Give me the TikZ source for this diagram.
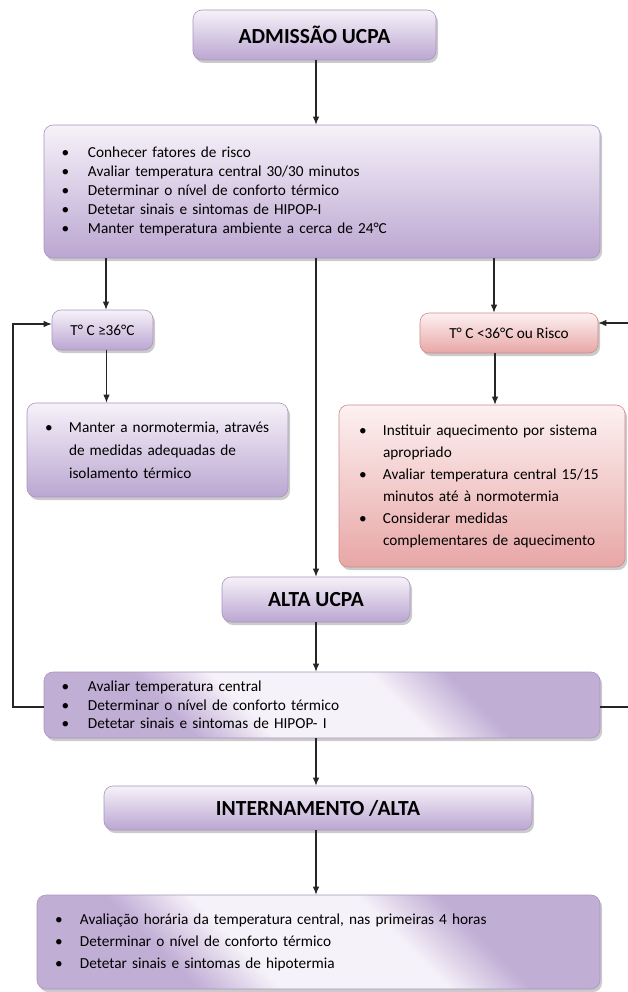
\documentclass[tikz,border=0pt]{standalone}
\usepackage{fontspec}
\setmainfont{Carlito}
\usetikzlibrary{arrows.meta,shadows}
\definecolor{lavTop}{HTML}{F6F2F9}
\definecolor{lavBot}{HTML}{BBA6D1}
\definecolor{lavLine}{HTML}{A894BF}
\definecolor{redTop}{HTML}{FDF1F1}
\definecolor{redBot}{HTML}{E8A6A6}
\definecolor{redLine}{HTML}{D08A8A}
\colorlet{lavEnd}{lavBot!90!lavTop}
\pgfdeclareverticalshading{lavband}{100bp}{color(0bp)=(lavEnd); color(32bp)=(lavEnd); color(41bp)=(lavTop); color(59bp)=(lavTop); color(68bp)=(lavEnd); color(100bp)=(lavEnd)}
\newcommand\bi[2]{\makebox[#1][l]{\textbullet}#2}
\newcommand\bc[2]{\hspace*{#1}#2}
\tikzset{
  basebox/.style={rounded corners=9pt, line width=0.6pt,
    drop shadow={shadow xshift=2pt, shadow yshift=-3pt, fill=black!45, opacity=0.45}},
  lavbox/.style={basebox, draw=lavLine, top color=lavTop, bottom color=lavBot},
  lavdiag/.style={basebox, draw=lavLine, shading=lavband, shading angle=-45},
  redbox/.style={basebox, draw=redLine, top color=redTop, bottom color=redBot},
  titlefont/.style={font=\fontsize{21.5}{24}\selectfont\bfseries},
  smallfont/.style={font=\fontsize{15.3}{18}\selectfont},
  arr/.style={-{Latex[length=8pt,width=6.5pt]}, line width=1.1pt, draw=black!85},
}
\begin{document}
\begin{tikzpicture}[x=1pt,y=-1pt]
\useasboundingbox (0,0) rectangle (627,992);
% boxes
\node[lavbox, titlefont, minimum width=243pt, minimum height=50pt] (adm) at (314.5,35) {ADMISSÃO UCPA};
\node[lavbox, font=\fontsize{15.3}{19}\selectfont, align=left, text width=521pt, inner xsep=17.5pt, minimum height=133pt] (B) at (322,191.5)
 {\bi{26.5pt}{Conhecer fatores de risco}\\
  \bi{26.5pt}{Avaliar temperatura central 30/30 minutos}\\
  \bi{26.5pt}{Determinar o nível de conforto térmico}\\
  \bi{26.5pt}{Detetar sinais e sintomas de HIPOP-I}\\
  \bi{26.5pt}{Manter temperatura ambiente a cerca de 24°C}};
\node[lavbox, smallfont, minimum width=101pt, minimum height=40pt] (C) at (102.5,330) {T° C ≥36°C};
\node[lavbox, font=\fontsize{15.3}{23}\selectfont, align=left, text width=225pt, inner xsep=18pt, minimum height=94pt] (D) at (157.5,450)
 {\bi{24pt}{Manter a normotermia, através}\\
  \bc{24pt}{de medidas adequadas de}\\
  \bc{24pt}{isolamento térmico}};
\node[redbox, smallfont, minimum width=178pt, minimum height=40pt] (E) at (509,333) {T° C <36°C ou Risco};
\node[redbox, font=\fontsize{15.3}{22}\selectfont, align=left, text width=246pt, inner xsep=20pt, minimum height=162pt] (F) at (482,486)
 {\bi{24pt}{Instituir aquecimento por sistema}\\
  \bc{24pt}{apropriado}\\
  \bi{24pt}{Avaliar temperatura central 15/15}\\
  \bc{24pt}{minutos até à normotermia}\\
  \bi{24pt}{Considerar medidas}\\
  \bc{24pt}{complementares de aquecimento}};
\node[lavbox, titlefont, minimum width=188pt, minimum height=45pt] (G) at (316,599.5) {ALTA UCPA};
\node[lavdiag, font=\fontsize{15.3}{18.5}\selectfont, align=left, text width=521pt, inner xsep=17.5pt, minimum height=66pt] (H) at (322,705)
 {\bi{26.5pt}{Avaliar temperatura central}\\
  \bi{26.5pt}{Determinar o nível de conforto térmico}\\
  \bi{26.5pt}{Detetar sinais e sintomas de HIPOP- I}};
\node[lavbox, titlefont, minimum width=428pt, minimum height=44pt] (I) at (318,808) {INTERNAMENTO /ALTA};
\node[lavdiag, font=\fontsize{15.3}{22}\selectfont, align=left, text width=527pt, inner xsep=18pt, minimum height=94pt] (J) at (318.5,942)
 {\bi{25pt}{Avaliação horária da temperatura central, nas primeiras 4 horas}\\
  \bi{25pt}{Determinar o nível de conforto térmico}\\
  \bi{25pt}{Detetar sinais e sintomas de hipotermia}};
% helper coordinates
\coordinate (lL) at (13,707);
\coordinate (rR) at (630,707);
% connectors
\draw[arr] ([xshift=1.5pt]adm.south) -- ([xshift=1.5pt]adm.south |- B.north);
\draw[arr] ([xshift=3.5pt]C.north |- B.south) -- ([xshift=3.5pt]C.north);
\draw[arr] (G.north |- B.south) -- (G.north);
\draw[arr] ([xshift=-15pt]E.north |- B.south) -- ([xshift=-15pt]E.north);
\draw[arr] ([xshift=4pt]C.south) -- ([xshift=4pt]C.south |- D.north);
\draw[arr] ([xshift=-14pt]E.south) -- ([xshift=-14pt]E.south |- F.north);
\draw[arr] (G.south) -- (G.south |- H.north);
\draw[arr] (G.south |- H.south) -- (G.south |- I.north);
\draw[arr] (G.south |- I.south) -- (G.south |- J.north);
\draw[arr] (H.west |- lL) -- (lL) |- ([yshift=6pt]C.west);
\draw[arr] (H.east |- rR) -- (rR) |- ([yshift=10pt]E.east);
\end{tikzpicture}
\end{document}
